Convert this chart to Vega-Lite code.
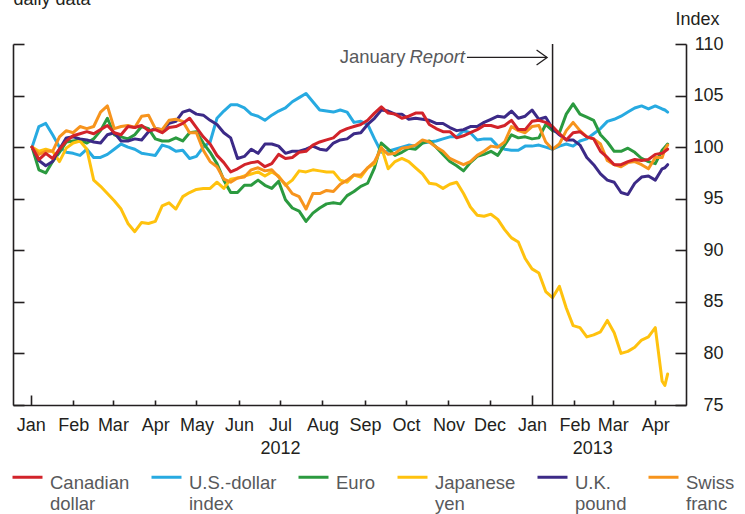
{
  "$schema": "https://vega.github.io/schema/vega-lite/v6.json",
  "width": 673,
  "height": 361,
  "autosize": {"type": "none"},
  "padding": {"left": 13, "top": 44, "right": 59, "bottom": 109},
  "config": {
    "font": "Liberation Sans",
    "view": {"stroke": null},
    "axis": {
      "grid": false,
      "labelFont": "Liberation Sans",
      "labelFontSize": 18,
      "labelColor": "#231f20",
      "domainColor": "#231f20",
      "tickColor": "#231f20",
      "domainWidth": 1.6,
      "tickWidth": 1.6,
      "titleFont": "Liberation Sans",
      "titleFontSize": 18,
      "titleFontWeight": "normal",
      "titleColor": "#231f20"
    },
    "legend": {
      "labelFont": "Liberation Sans",
      "labelFontSize": 18.5,
      "labelColor": "#58595b"
    },
    "style": {"guide-label": {"lineHeight": 21}}
  },
  "layer": [
    {
      "data": {
        "values": [
          {"d": "2012-01-02", "cad": 100, "usd": 100, "eur": 100, "jpy": 100, "gbp": 100, "chf": 100},
          {"d": "2012-01-07", "cad": 98.8, "usd": 102.0, "eur": 97.8, "jpy": 99.6, "gbp": 98.7, "chf": 99.3},
          {"d": "2012-01-12", "cad": 99.4, "usd": 102.3, "eur": 97.5, "jpy": 99.8, "gbp": 98.2, "chf": 99.6},
          {"d": "2012-01-17", "cad": 98.9, "usd": 101.2, "eur": 98.6, "jpy": 99.6, "gbp": 98.6, "chf": 99.6},
          {"d": "2012-01-22", "cad": 99.8, "usd": 100.0, "eur": 99.5, "jpy": 98.6, "gbp": 99.8, "chf": 101.0},
          {"d": "2012-01-27", "cad": 100.6, "usd": 99.5, "eur": 100.5, "jpy": 99.9, "gbp": 100.9, "chf": 101.6},
          {"d": "2012-02-01", "cad": 101.1, "usd": 99.4, "eur": 100.6, "jpy": 100.4, "gbp": 101.0, "chf": 101.4},
          {"d": "2012-02-06", "cad": 101.3, "usd": 99.2, "eur": 100.7, "jpy": 100.6, "gbp": 100.8, "chf": 102.0},
          {"d": "2012-02-11", "cad": 101.5, "usd": 99.8, "eur": 100.4, "jpy": 99.8, "gbp": 100.7, "chf": 101.8},
          {"d": "2012-02-16", "cad": 101.3, "usd": 99.0, "eur": 100.8, "jpy": 96.8, "gbp": 100.5, "chf": 102.0},
          {"d": "2012-02-21", "cad": 101.7, "usd": 99.0, "eur": 101.6, "jpy": 96.2, "gbp": 100.4, "chf": 103.4},
          {"d": "2012-02-26", "cad": 102.1, "usd": 99.3, "eur": 102.8, "jpy": 95.5, "gbp": 101.2, "chf": 104.0},
          {"d": "2012-03-02", "cad": 101.4, "usd": 99.8, "eur": 101.2, "jpy": 94.8, "gbp": 101.4, "chf": 101.8},
          {"d": "2012-03-07", "cad": 101.2, "usd": 100.3, "eur": 101.0, "jpy": 94.0, "gbp": 100.6, "chf": 102.0},
          {"d": "2012-03-12", "cad": 102.0, "usd": 100.0, "eur": 100.8, "jpy": 92.6, "gbp": 100.6, "chf": 102.1},
          {"d": "2012-03-17", "cad": 101.9, "usd": 99.8, "eur": 101.2, "jpy": 91.8, "gbp": 100.8, "chf": 101.9},
          {"d": "2012-03-22", "cad": 102.1, "usd": 99.4, "eur": 102.0, "jpy": 92.7, "gbp": 100.7, "chf": 103.0},
          {"d": "2012-03-27", "cad": 101.6, "usd": 99.3, "eur": 101.8, "jpy": 92.6, "gbp": 101.5, "chf": 103.1},
          {"d": "2012-04-01", "cad": 101.7, "usd": 99.2, "eur": 100.8, "jpy": 92.8, "gbp": 101.8, "chf": 101.8},
          {"d": "2012-04-06", "cad": 101.4, "usd": 100.2, "eur": 100.6, "jpy": 94.3, "gbp": 101.7, "chf": 101.7},
          {"d": "2012-04-11", "cad": 101.9, "usd": 100.0, "eur": 100.6, "jpy": 94.6, "gbp": 102.3, "chf": 102.6},
          {"d": "2012-04-16", "cad": 102.0, "usd": 99.6, "eur": 100.9, "jpy": 94.0, "gbp": 102.5, "chf": 102.7},
          {"d": "2012-04-21", "cad": 102.3, "usd": 99.7, "eur": 100.6, "jpy": 95.2, "gbp": 103.4, "chf": 102.5},
          {"d": "2012-04-26", "cad": 102.8, "usd": 98.9, "eur": 101.4, "jpy": 95.6, "gbp": 103.6, "chf": 101.4},
          {"d": "2012-05-01", "cad": 101.9, "usd": 99.1, "eur": 101.5, "jpy": 95.9, "gbp": 103.2, "chf": 101.4},
          {"d": "2012-05-06", "cad": 101.0, "usd": 100.0, "eur": 100.4, "jpy": 96.0, "gbp": 103.1, "chf": 99.7},
          {"d": "2012-05-11", "cad": 100.3, "usd": 100.5, "eur": 99.5, "jpy": 96.0, "gbp": 102.6, "chf": 98.6},
          {"d": "2012-05-16", "cad": 99.2, "usd": 102.8, "eur": 98.4, "jpy": 96.6, "gbp": 102.2, "chf": 98.1},
          {"d": "2012-05-21", "cad": 98.5, "usd": 103.5, "eur": 96.8, "jpy": 96.0, "gbp": 101.4, "chf": 96.9},
          {"d": "2012-05-26", "cad": 97.6, "usd": 104.1, "eur": 95.6, "jpy": 96.9, "gbp": 100.9, "chf": 96.6},
          {"d": "2012-05-31", "cad": 97.9, "usd": 104.1, "eur": 95.6, "jpy": 97.0, "gbp": 98.9, "chf": 97.0},
          {"d": "2012-06-05", "cad": 98.3, "usd": 103.8, "eur": 96.3, "jpy": 97.2, "gbp": 99.1, "chf": 97.1},
          {"d": "2012-06-10", "cad": 98.5, "usd": 103.2, "eur": 96.3, "jpy": 97.4, "gbp": 99.8, "chf": 97.8},
          {"d": "2012-06-15", "cad": 98.6, "usd": 103.0, "eur": 96.8, "jpy": 97.6, "gbp": 99.4, "chf": 98.0},
          {"d": "2012-06-20", "cad": 98.1, "usd": 102.6, "eur": 96.3, "jpy": 97.2, "gbp": 100.3, "chf": 97.7},
          {"d": "2012-06-25", "cad": 98.4, "usd": 103.1, "eur": 96.0, "jpy": 97.6, "gbp": 100.3, "chf": 97.8},
          {"d": "2012-06-30", "cad": 99.3, "usd": 103.5, "eur": 96.7, "jpy": 97.2, "gbp": 100.1, "chf": 97.1},
          {"d": "2012-07-05", "cad": 98.9, "usd": 103.8, "eur": 94.9, "jpy": 96.3, "gbp": 99.4, "chf": 96.4},
          {"d": "2012-07-10", "cad": 99.0, "usd": 104.4, "eur": 94.1, "jpy": 96.8, "gbp": 99.6, "chf": 95.5},
          {"d": "2012-07-15", "cad": 99.5, "usd": 104.8, "eur": 93.8, "jpy": 97.7, "gbp": 99.6, "chf": 95.2},
          {"d": "2012-07-20", "cad": 99.6, "usd": 105.2, "eur": 92.8, "jpy": 97.6, "gbp": 99.8, "chf": 94.0},
          {"d": "2012-07-25", "cad": 100.2, "usd": 104.4, "eur": 93.6, "jpy": 97.8, "gbp": 100.1, "chf": 95.5},
          {"d": "2012-07-30", "cad": 100.5, "usd": 103.6, "eur": 94.1, "jpy": 97.7, "gbp": 99.8, "chf": 95.5},
          {"d": "2012-08-04", "cad": 100.7, "usd": 103.5, "eur": 94.5, "jpy": 97.6, "gbp": 99.7, "chf": 95.8},
          {"d": "2012-08-09", "cad": 100.9, "usd": 103.4, "eur": 94.6, "jpy": 97.6, "gbp": 100.4, "chf": 95.7},
          {"d": "2012-08-14", "cad": 101.5, "usd": 103.6, "eur": 94.5, "jpy": 96.8, "gbp": 100.7, "chf": 96.4},
          {"d": "2012-08-19", "cad": 101.8, "usd": 103.4, "eur": 95.3, "jpy": 96.6, "gbp": 100.8, "chf": 96.8},
          {"d": "2012-08-24", "cad": 102.0, "usd": 102.4, "eur": 95.7, "jpy": 97.3, "gbp": 101.3, "chf": 97.3},
          {"d": "2012-08-29", "cad": 102.2, "usd": 102.5, "eur": 96.2, "jpy": 97.1, "gbp": 101.4, "chf": 97.3},
          {"d": "2012-09-03", "cad": 102.6, "usd": 102.2, "eur": 96.5, "jpy": 98.0, "gbp": 102.2, "chf": 98.0},
          {"d": "2012-09-08", "cad": 103.3, "usd": 100.8, "eur": 98.0, "jpy": 98.4, "gbp": 102.8, "chf": 98.6},
          {"d": "2012-09-13", "cad": 103.9, "usd": 99.5, "eur": 100.4, "jpy": 100.0, "gbp": 103.6, "chf": 99.9},
          {"d": "2012-09-18", "cad": 103.3, "usd": 99.6, "eur": 99.8, "jpy": 97.9, "gbp": 103.5, "chf": 99.3},
          {"d": "2012-09-23", "cad": 103.2, "usd": 99.8, "eur": 99.2, "jpy": 98.6, "gbp": 103.2, "chf": 99.4},
          {"d": "2012-09-28", "cad": 102.8, "usd": 100.0, "eur": 99.5, "jpy": 98.9, "gbp": 103.2, "chf": 99.9},
          {"d": "2012-10-03", "cad": 103.0, "usd": 100.2, "eur": 99.9, "jpy": 98.6, "gbp": 102.7, "chf": 100.0},
          {"d": "2012-10-08", "cad": 103.3, "usd": 100.1, "eur": 99.8, "jpy": 98.0, "gbp": 102.8, "chf": 100.2},
          {"d": "2012-10-13", "cad": 103.3, "usd": 100.4, "eur": 100.4, "jpy": 97.4, "gbp": 102.7, "chf": 100.7},
          {"d": "2012-10-18", "cad": 102.2, "usd": 100.5, "eur": 100.6, "jpy": 96.5, "gbp": 102.6, "chf": 100.5},
          {"d": "2012-10-23", "cad": 101.8, "usd": 100.6, "eur": 100.0, "jpy": 96.4, "gbp": 102.3, "chf": 100.0},
          {"d": "2012-10-28", "cad": 101.5, "usd": 100.8, "eur": 99.3, "jpy": 96.0, "gbp": 102.3, "chf": 99.6},
          {"d": "2012-11-02", "cad": 101.5, "usd": 101.0, "eur": 98.6, "jpy": 96.4, "gbp": 101.9, "chf": 98.9},
          {"d": "2012-11-07", "cad": 100.9, "usd": 101.0, "eur": 98.2, "jpy": 96.6, "gbp": 101.6, "chf": 98.6},
          {"d": "2012-11-12", "cad": 101.1, "usd": 101.6, "eur": 97.7, "jpy": 95.5, "gbp": 101.7, "chf": 98.3},
          {"d": "2012-11-17", "cad": 101.4, "usd": 101.4, "eur": 98.5, "jpy": 94.2, "gbp": 102.0, "chf": 98.6},
          {"d": "2012-11-22", "cad": 101.7, "usd": 100.7, "eur": 99.1, "jpy": 93.4, "gbp": 102.0, "chf": 99.2},
          {"d": "2012-11-27", "cad": 102.1, "usd": 100.8, "eur": 99.3, "jpy": 93.3, "gbp": 102.4, "chf": 99.6},
          {"d": "2012-12-02", "cad": 102.1, "usd": 100.8, "eur": 99.6, "jpy": 93.5, "gbp": 102.7, "chf": 100.1},
          {"d": "2012-12-07", "cad": 101.9, "usd": 100.1, "eur": 99.2, "jpy": 93.0, "gbp": 103.0, "chf": 100.0},
          {"d": "2012-12-12", "cad": 102.1, "usd": 99.8, "eur": 100.2, "jpy": 92.0, "gbp": 102.9, "chf": 100.5},
          {"d": "2012-12-17", "cad": 102.6, "usd": 99.7, "eur": 101.2, "jpy": 91.2, "gbp": 103.5, "chf": 102.0},
          {"d": "2012-12-22", "cad": 101.7, "usd": 99.7, "eur": 100.9, "jpy": 90.8, "gbp": 102.8, "chf": 101.6},
          {"d": "2012-12-27", "cad": 101.7, "usd": 100.1, "eur": 101.0, "jpy": 89.2, "gbp": 103.0, "chf": 101.4},
          {"d": "2013-01-01", "cad": 102.5, "usd": 100.1, "eur": 100.8, "jpy": 88.2, "gbp": 103.6, "chf": 102.0},
          {"d": "2013-01-06", "cad": 102.6, "usd": 100.2, "eur": 100.9, "jpy": 87.8, "gbp": 102.7, "chf": 102.1},
          {"d": "2013-01-11", "cad": 102.4, "usd": 100.0, "eur": 102.2, "jpy": 86.0, "gbp": 102.9, "chf": 100.5},
          {"d": "2013-01-16", "cad": 102.0, "usd": 99.8, "eur": 101.6, "jpy": 85.4, "gbp": 101.8, "chf": 99.8},
          {"d": "2013-01-21", "cad": 101.3, "usd": 100.1, "eur": 101.4, "jpy": 86.5, "gbp": 101.2, "chf": 100.3},
          {"d": "2013-01-26", "cad": 100.7, "usd": 100.3, "eur": 103.2, "jpy": 84.4, "gbp": 100.7, "chf": 101.6},
          {"d": "2013-01-31", "cad": 101.4, "usd": 100.1, "eur": 104.2, "jpy": 82.7, "gbp": 100.7, "chf": 102.4},
          {"d": "2013-02-05", "cad": 101.5, "usd": 100.6, "eur": 103.2, "jpy": 82.5, "gbp": 100.2, "chf": 101.6},
          {"d": "2013-02-10", "cad": 101.0, "usd": 100.8, "eur": 102.9, "jpy": 81.6, "gbp": 99.0, "chf": 101.0},
          {"d": "2013-02-15", "cad": 100.8, "usd": 101.3, "eur": 102.6, "jpy": 81.8, "gbp": 98.3, "chf": 100.8},
          {"d": "2013-02-20", "cad": 99.6, "usd": 101.8, "eur": 101.2, "jpy": 82.1, "gbp": 97.4, "chf": 100.3},
          {"d": "2013-02-25", "cad": 99.0, "usd": 102.5, "eur": 100.5, "jpy": 83.2, "gbp": 96.8, "chf": 98.7},
          {"d": "2013-03-02", "cad": 98.3, "usd": 102.7, "eur": 99.6, "jpy": 82.0, "gbp": 96.6, "chf": 98.3},
          {"d": "2013-03-07", "cad": 98.3, "usd": 103.0, "eur": 99.6, "jpy": 80.0, "gbp": 95.6, "chf": 98.1},
          {"d": "2013-03-12", "cad": 98.6, "usd": 103.4, "eur": 99.9, "jpy": 80.2, "gbp": 95.4, "chf": 98.5},
          {"d": "2013-03-17", "cad": 98.8, "usd": 103.8, "eur": 99.5, "jpy": 80.6, "gbp": 96.5, "chf": 98.6},
          {"d": "2013-03-22", "cad": 98.7, "usd": 104.0, "eur": 98.9, "jpy": 81.3, "gbp": 97.1, "chf": 98.3},
          {"d": "2013-03-27", "cad": 98.8, "usd": 103.7, "eur": 98.6, "jpy": 81.6, "gbp": 97.2, "chf": 97.9},
          {"d": "2013-04-01", "cad": 99.3, "usd": 104.0, "eur": 98.4, "jpy": 82.5, "gbp": 96.8, "chf": 99.0},
          {"d": "2013-04-06", "cad": 99.4, "usd": 103.7, "eur": 99.7, "jpy": 77.3, "gbp": 97.9, "chf": 99.0},
          {"d": "2013-04-08", "cad": 99.6, "usd": 103.6, "eur": 100.0, "jpy": 76.9, "gbp": 98.0, "chf": 99.8},
          {"d": "2013-04-10", "cad": 99.8, "usd": 103.4, "eur": 100.3, "jpy": 78.0, "gbp": 98.3, "chf": 100.2}
        ]
      },
      "transform": [{"fold": ["usd", "eur", "jpy", "gbp", "chf", "cad"], "as": ["series", "value"]}],
      "mark": {"type": "line", "strokeWidth": 3, "strokeJoin": "round", "strokeCap": "round"},
      "encoding": {
        "x": {
          "field": "d",
          "type": "temporal",
          "scale": {
            "type": "utc",
            "domain": [
              {"year": 2011, "month": 12, "date": 19, "hours": 2, "utc": true},
              {"year": 2013, "month": 4, "date": 23, "hours": 10, "utc": true}
            ]
          },
          "axis": {
            "orient": "bottom",
            "title": null,
            "values": [
              {"year": 2012, "month": 1, "date": 1, "utc": true},
              {"year": 2012, "month": 2, "date": 1, "utc": true},
              {"year": 2012, "month": 3, "date": 1, "utc": true},
              {"year": 2012, "month": 4, "date": 1, "utc": true},
              {"year": 2012, "month": 5, "date": 1, "utc": true},
              {"year": 2012, "month": 6, "date": 1, "utc": true},
              {"year": 2012, "month": 7, "date": 1, "utc": true},
              {"year": 2012, "month": 8, "date": 1, "utc": true},
              {"year": 2012, "month": 9, "date": 1, "utc": true},
              {"year": 2012, "month": 10, "date": 1, "utc": true},
              {"year": 2012, "month": 11, "date": 1, "utc": true},
              {"year": 2012, "month": 12, "date": 1, "utc": true},
              {"year": 2013, "month": 1, "date": 1, "utc": true},
              {"year": 2013, "month": 2, "date": 1, "utc": true},
              {"year": 2013, "month": 3, "date": 1, "utc": true},
              {"year": 2013, "month": 4, "date": 1, "utc": true}
            ],
            "labelExpr": "utcFormat(datum.value, '%b')",
            "tickSize": {"condition": {"test": "utcmonth(datum.value) === 0", "value": -10}, "value": -5},
            "labelPadding": {"condition": {"test": "utcmonth(datum.value) === 0", "value": 21}, "value": 16},
            "labelBaseline": "top",
            "labelAngle": 0,
            "labelAlign": "center",
            "labelFlush": false,
            "labelOverlap": false
          }
        },
        "y": {
          "field": "value",
          "type": "quantitative",
          "scale": {"domain": [75, 110], "nice": false, "zero": false},
          "axis": {
            "orient": "right",
            "values": [75, 80, 85, 90, 95, 100, 105, 110],
            "tickSize": -11,
            "labelPadding": 48,
            "labelAlign": "right",
            "title": "Index",
            "titleAngle": 0,
            "titleX": 11,
            "titleY": -20,
            "titleAlign": "center",
            "titleBaseline": "alphabetic"
          }
        },
        "color": {
          "field": "series",
          "type": "nominal",
          "scale": {
            "domain": ["cad", "usd", "eur", "jpy", "gbp", "chf"],
            "range": ["#d2232a", "#27aae1", "#2b9a3f", "#ffc20e", "#3c2a87", "#f7941d"]
          },
          "legend": {
            "orient": "none",
            "legendX": -2,
            "legendY": 413,
            "direction": "horizontal",
            "title": null,
            "symbolType": "M-1,0.25L1,0.25",
            "symbolSize": 900,
            "symbolStrokeWidth": 3,
            "labelOffset": 6,
            "columnPadding": 15,
            "labelBaseline": "top",
            "labelLimit": 300,
            "padding": 0,
            "labelExpr": "datum.label === 'cad' ? ['Canadian', 'dollar'] : datum.label === 'usd' ? ['U.S.-dollar', 'index'] : datum.label === 'eur' ? ['Euro', ' '] : datum.label === 'jpy' ? ['Japanese', 'yen'] : datum.label === 'gbp' ? ['U.K.', 'pound'] : ['Swiss', 'franc']"
          }
        }
      }
    },
    {
      "data": {"values": [{"d": "2013-01-16"}]},
      "mark": {"type": "rule", "color": "#231f20", "strokeWidth": 1.5},
      "encoding": {
        "x": {
          "field": "d",
          "type": "temporal",
          "axis": {
            "orient": "bottom",
            "title": null,
            "domain": false,
            "ticks": false,
            "values": [
              {"year": 2012, "month": 7, "date": 1, "utc": true},
              {"year": 2013, "month": 2, "date": 14, "utc": true}
            ],
            "labelExpr": "utcFormat(datum.value, '%Y')",
            "labelPadding": 34,
            "labelBaseline": "top",
            "labelAngle": 0,
            "labelAlign": "center",
            "labelFlush": false,
            "labelOverlap": false
          }
        }
      }
    },
    {
      "data": {"values": [{"d": "2012-10-02T02:00:00Z", "v": 108.7, "a": "January", "b": "Report"}]},
      "mark": {"type": "text", "align": "right", "baseline": "middle", "dx": -2, "fontSize": 18.5, "color": "#58595b", "font": "Liberation Sans"},
      "encoding": {
        "x": {"field": "d", "type": "temporal", "axis": null},
        "y": {
          "field": "v",
          "type": "quantitative",
          "axis": {
            "orient": "left",
            "values": [75, 80, 85, 90, 95, 100, 105, 110],
            "labels": false,
            "tickSize": -11,
            "title": "daily data",
            "titleAngle": 0,
            "titleX": 0,
            "titleY": -40,
            "titleAlign": "left",
            "titleBaseline": "alphabetic"
          }
        },
        "text": {"field": "a"}
      }
    },
    {
      "data": {"values": [{"d": "2012-10-02T02:00:00Z", "v": 108.7, "a": "January", "b": "Report"}]},
      "mark": {"type": "text", "align": "left", "baseline": "middle", "dx": 2, "fontSize": 18.5, "fontStyle": "italic", "color": "#58595b", "font": "Liberation Sans"},
      "encoding": {
        "x": {"field": "d", "type": "temporal", "axis": null},
        "y": {"field": "v", "type": "quantitative", "axis": null},
        "text": {"field": "b"}
      }
    },
    {
      "data": {"values": [{"d": "2012-11-14T12:00:00Z", "d2": "2013-01-12T00:00:00Z", "v": 108.7}]},
      "mark": {"type": "rule", "color": "#231f20", "strokeWidth": 1.3},
      "encoding": {
        "x": {"field": "d", "type": "temporal", "axis": null},
        "x2": {"field": "d2"},
        "y": {"field": "v", "type": "quantitative", "axis": null}
      }
    },
    {
      "data": {"values": [{"d": "2013-01-12T00:00:00Z", "v": 108.7}]},
      "mark": {"type": "point", "shape": "M-1.4,-1L0,0L-1.4,1", "filled": false, "size": 225, "strokeWidth": 1.3, "color": "#231f20", "opacity": 1},
      "encoding": {
        "x": {"field": "d", "type": "temporal", "axis": null},
        "y": {"field": "v", "type": "quantitative", "axis": null}
      }
    }
  ],
  "resolve": {"axis": {"x": "independent", "y": "independent"}}
}
